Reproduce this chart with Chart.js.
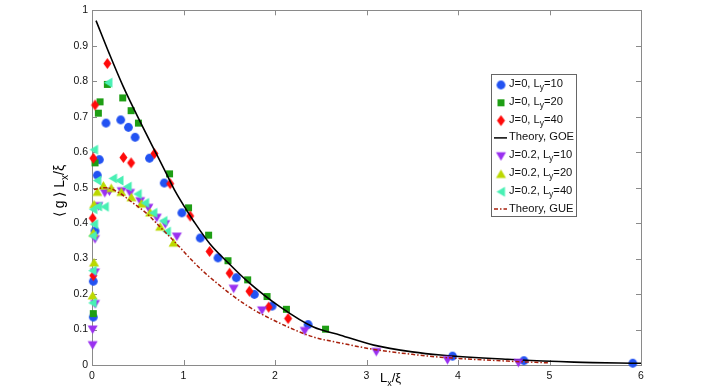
<!DOCTYPE html>
<html>
<head>
<meta charset="utf-8">
<script src="https://cdn.jsdelivr.net/npm/chart.js@4.4.1/dist/chart.umd.min.js"></script>
<style>
  html, body { margin: 0; padding: 0; background: #fff; }
  #wrap { width: 708px; height: 386px; }
</style>
</head>
<body>
<div id="wrap"><canvas id="chart" width="708" height="386"></canvas></div>
<script>
// J=0, Ly=10
var j0L10X = [0.014, 0.014, 0.033, 0.058, 0.080, 0.153, 0.314, 0.398, 0.471, 0.628, 0.789, 0.982, 1.183, 1.377, 1.577, 1.774, 1.968, 2.362, 3.94, 4.72, 5.91];
var j0L10Y = [0.135, 0.236, 0.378, 0.535, 0.579, 0.682, 0.691, 0.670, 0.642, 0.583, 0.513, 0.429, 0.358, 0.302, 0.246, 0.199, 0.166, 0.114, 0.025, 0.012, 0.005];
// J=0, Ly=20
var j0L20X = [0.014, 0.033, 0.069, 0.088, 0.168, 0.336, 0.427, 0.507, 0.847, 1.055, 1.274, 1.486, 1.701, 1.913, 2.125, 2.552];
var j0L20Y = [0.145, 0.570, 0.710, 0.742, 0.791, 0.753, 0.717, 0.682, 0.539, 0.443, 0.366, 0.294, 0.240, 0.193, 0.157, 0.101];
// J=0, Ly=40
var j0L40X = [0.014, 0.007, 0.015, 0.033, 0.168, 0.343, 0.427, 0.682, 0.854, 1.073, 1.285, 1.504, 1.720, 1.931, 2.143];
var j0L40Y = [0.252, 0.414, 0.583, 0.733, 0.850, 0.585, 0.570, 0.596, 0.511, 0.420, 0.320, 0.259, 0.208, 0.163, 0.131];
// J=0.2, Ly=10
var j2L10X = [0.007, 0.007, 0.033, 0.033, 0.033, 0.069, 0.14, 0.19, 0.325, 0.416, 0.526, 0.617, 0.708, 0.800, 0.927, 1.548, 1.858, 2.325, 3.107, 3.885, 4.66];
var j2L10Y = [0.056, 0.100, 0.172, 0.261, 0.355, 0.448, 0.485, 0.489, 0.490, 0.485, 0.462, 0.443, 0.415, 0.397, 0.362, 0.215, 0.154, 0.096, 0.037, 0.014, 0.006];
// J=0.2, Ly=20
var j2L20X = [0.007, 0.022, 0.015, 0.022, 0.058, 0.124, 0.21, 0.32, 0.43, 0.54, 0.635, 0.745, 0.891];
var j2L20Y = [0.196, 0.289, 0.373, 0.453, 0.488, 0.506, 0.499, 0.488, 0.473, 0.455, 0.430, 0.390, 0.345];
// J=0.2, Ly=40
var j2L40X = [0.007, 0.007, 0.007, 0.022, 0.015, 0.066, 0.14, 0.022, 0.058, 0.179, 0.23, 0.30, 0.39, 0.50, 0.58, 0.67, 0.78, 0.818];
var j2L40Y = [0.175, 0.266, 0.364, 0.397, 0.439, 0.447, 0.446, 0.607, 0.520, 0.796, 0.526, 0.520, 0.503, 0.482, 0.457, 0.429, 0.406, 0.376];
// theory curves
var goeX = [0.044, 0.19, 0.343, 0.526, 0.708, 0.81, 0.909, 1.03, 1.11, 1.29, 1.50, 1.69, 2.06, 2.42, 2.716, 3.08, 3.5, 3.81, 4.54, 5.27, 6.0];
var goeY = [0.971, 0.877, 0.784, 0.686, 0.593, 0.541, 0.490, 0.438, 0.406, 0.341, 0.285, 0.238, 0.163, 0.107, 0.084, 0.056, 0.037, 0.028, 0.016, 0.008, 0.005];
var gueX = [0.02, 0.15, 0.30, 0.446, 0.59, 0.737, 0.927, 1.10, 1.29, 1.69, 2.06, 2.42, 2.716, 3.08, 3.5, 3.81, 4.54, 5.0];
var gueY = [0.495, 0.500, 0.485, 0.457, 0.429, 0.391, 0.341, 0.293, 0.247, 0.168, 0.117, 0.079, 0.062, 0.044, 0.030, 0.022, 0.011, 0.006];

var xTicks = [0, 1, 2, 3, 4, 5, 6];
var yTicks = [0, 0.1, 0.2, 0.3, 0.4, 0.5, 0.6, 0.7, 0.8, 0.9, 1];

var FONT = '"Liberation Sans", Arial, Helvetica, sans-serif';

function pairs(xs, ys) {
    var out = [];
    for (var i = 0; i < xs.length; i++) {
        out.push({x: xs[i], y: ys[i]});
    }
    return out;
}

function makeMarker(shape, color) {
    var c = document.createElement('canvas');
    c.width = 13;
    c.height = 13;
    var g = c.getContext('2d');
    g.fillStyle = color;
    g.beginPath();
    if (shape === 'circle') {
        g.arc(6.5, 6.5, 4.4, 0, 2 * Math.PI);
    } else if (shape === 'square') {
        g.rect(3, 3, 7, 7);
    } else if (shape === 'diamond') {
        g.moveTo(6.5, 1);
        g.lineTo(10.5, 6.5);
        g.lineTo(6.5, 12);
        g.lineTo(2.5, 6.5);
    } else if (shape === 'down') {
        g.moveTo(1.5, 2.5);
        g.lineTo(11.5, 2.5);
        g.lineTo(6.5, 11);
    } else if (shape === 'up') {
        g.moveTo(1.5, 10.5);
        g.lineTo(11.5, 10.5);
        g.lineTo(6.5, 2);
    } else if (shape === 'left') {
        g.moveTo(2, 6.5);
        g.lineTo(10.5, 1.5);
        g.lineTo(10.5, 11.5);
    }
    g.closePath();
    g.fill();
    return c;
}

var mBlue = makeMarker('circle', '#2252f2');
var mGreen = makeMarker('square', '#1e9e14');
var mRed = makeMarker('diamond', '#ff0a0a');
var mPurple = makeMarker('down', '#9a30f0');
var mYellow = makeMarker('up', '#bcd800');
var mCyan = makeMarker('left', '#48f0b4');

var GOE_COLOR = '#000000';
var GUE_COLOR = '#a8200c';
var GUE_DASH = [4, 2, 1.5, 2];

function scatterSet(label, xs, ys, marker, order) {
    return {
        type: 'scatter',
        label: label,
        data: pairs(xs, ys),
        pointStyle: marker,
        pointRadius: 5,
        borderWidth: 0,
        showLine: false,
        clip: false,
        order: order
    };
}

// legend rows: [text before sub, subscript, text after sub, kind, marker]
var legendRows = [
    ['J=0, L', 'y', '=10', 'marker', mBlue],
    ['J=0, L', 'y', '=20', 'marker', mGreen],
    ['J=0, L', 'y', '=40', 'marker', mRed],
    ['Theory, GOE', '', '', 'goe', null],
    ['J=0.2, L', 'y', '=10', 'marker', mPurple],
    ['J=0.2, L', 'y', '=20', 'marker', mYellow],
    ['J=0.2, L', 'y', '=40', 'marker', mCyan],
    ['Theory, GUE', '', '', 'gue', null]
];

function drawPieces(ctx, pieces, x, y) {
    // pieces: [text, size, dy]
    var cx = x;
    for (var i = 0; i < pieces.length; i++) {
        ctx.font = pieces[i][1] + 'px ' + FONT;
        ctx.fillText(pieces[i][0], cx, y + pieces[i][2]);
        cx += ctx.measureText(pieces[i][0]).width;
    }
    return cx - x;
}

function measurePieces(ctx, pieces) {
    var w = 0;
    for (var i = 0; i < pieces.length; i++) {
        ctx.font = pieces[i][1] + 'px ' + FONT;
        w += ctx.measureText(pieces[i][0]).width;
    }
    return w;
}

var framePlugin = {
    id: 'frame',
    beforeDatasetsDraw: function (chart) {
        var ctx = chart.ctx;
        var a = chart.chartArea;
        var xs = chart.scales.x, ys = chart.scales.y;
        ctx.save();
        ctx.strokeStyle = '#8a8a8a';
        ctx.lineWidth = 1;
        ctx.strokeRect(Math.round(a.left) + 0.5, Math.round(a.top) + 0.5,
            Math.round(a.right - a.left), Math.round(a.bottom - a.top));
        ctx.beginPath();
        for (var i = 1; i < xTicks.length - 1; i++) {
            var px = Math.round(xs.getPixelForValue(xTicks[i])) + 0.5;
            ctx.moveTo(px, a.bottom);
            ctx.lineTo(px, a.bottom - 5);
            ctx.moveTo(px, a.top);
            ctx.lineTo(px, a.top + 5);
        }
        for (var j = 1; j < yTicks.length - 1; j++) {
            var py = Math.round(ys.getPixelForValue(yTicks[j])) + 0.5;
            ctx.moveTo(a.left, py);
            ctx.lineTo(a.left + 5, py);
            ctx.moveTo(a.right, py);
            ctx.lineTo(a.right - 5, py);
        }
        ctx.stroke();
        ctx.restore();
    },
    afterDraw: function (chart) {
        var ctx = chart.ctx;
        ctx.save();
        ctx.fillStyle = '#000';
        ctx.textBaseline = 'alphabetic';

        // x axis title
        drawPieces(ctx, [['L', 13, 0], ['x', 9, 4], ['/\u03BE', 13, 0]], 380, 382);

        // y axis title, rotated
        var yPieces = [['\u27E8 g \u27E9 L', 14, 0], ['x', 10, 4], ['/\u03BE', 14, 0]];
        var tw = measurePieces(ctx, yPieces);
        ctx.save();
        ctx.translate(64, 191 + tw / 2);
        ctx.rotate(-Math.PI / 2);
        drawPieces(ctx, yPieces, 0, 0);
        ctx.restore();

        // legend
        var bx = 491.5, by = 74.5, bw = 85, bh = 142;
        ctx.fillStyle = '#fff';
        ctx.fillRect(bx, by, bw, bh);
        ctx.strokeStyle = '#666';
        ctx.lineWidth = 1;
        ctx.strokeRect(bx, by, bw, bh);
        for (var i = 0; i < legendRows.length; i++) {
            var row = legendRows[i];
            var cy = 84 + i * 17.8;
            if (row[3] === 'marker') {
                ctx.drawImage(row[4], 501 - 6.5, cy + 1 - 6.5);
            } else {
                ctx.save();
                ctx.beginPath();
                ctx.moveTo(494, cy + 0.5);
                ctx.lineTo(507, cy + 0.5);
                ctx.lineWidth = 1.5;
                ctx.strokeStyle = row[3] === 'goe' ? GOE_COLOR : GUE_COLOR;
                if (row[3] === 'gue') ctx.setLineDash(GUE_DASH);
                ctx.stroke();
                ctx.restore();
            }
            ctx.fillStyle = '#111';
            var pieces = [[row[0], 11.2, 0]];
            if (row[1]) {
                pieces.push([row[1], 8.5, 3]);
                pieces.push([row[2], 11.2, 0]);
            }
            drawPieces(ctx, pieces, 509, cy + 3);
        }
        ctx.restore();
    }
};

var datasets = [
    scatterSet('J=0, Ly=10', j0L10X, j0L10Y, mBlue, 8),
    scatterSet('J=0, Ly=20', j0L20X, j0L20Y, mGreen, 7),
    scatterSet('J=0, Ly=40', j0L40X, j0L40Y, mRed, 6),
    {
        type: 'line',
        label: 'Theory, GOE',
        data: pairs(goeX, goeY),
        borderColor: GOE_COLOR,
        borderWidth: 1.6,
        pointRadius: 0,
        cubicInterpolationMode: 'monotone',
        fill: false,
        order: 5
    },
    scatterSet('J=0.2, Ly=10', j2L10X, j2L10Y, mPurple, 4),
    scatterSet('J=0.2, Ly=20', j2L20X, j2L20Y, mYellow, 3),
    scatterSet('J=0.2, Ly=40', j2L40X, j2L40Y, mCyan, 2),
    {
        type: 'line',
        label: 'Theory, GUE',
        data: pairs(gueX, gueY),
        borderColor: GUE_COLOR,
        borderWidth: 1.5,
        borderDash: GUE_DASH,
        pointRadius: 0,
        cubicInterpolationMode: 'monotone',
        fill: false,
        order: 1
    }
];

var chart = new Chart(document.getElementById('chart'), {
    type: 'scatter',
    data: {datasets: datasets},
    options: {
        responsive: false,
        animation: false,
        events: [],
        layout: {padding: {top: 8, right: 67, left: 0, bottom: 0}},
        plugins: {
            legend: {display: false},
            tooltip: {enabled: false}
        },
        scales: {
            x: {
                type: 'linear',
                min: 0,
                max: 6,
                afterFit: function (scale) { scale.height = 21; },
                afterBuildTicks: function (scale) {
                    scale.ticks = xTicks.map(function (v) { return {value: v}; });
                },
                grid: {display: false, drawTicks: false},
                border: {display: false},
                ticks: {
                    autoSkip: false,
                    maxRotation: 0,
                    padding: 5,
                    color: '#111',
                    font: {family: FONT, size: 10.5},
                    callback: function (v) { return String(v); }
                }
            },
            y: {
                type: 'linear',
                min: 0,
                max: 1,
                afterFit: function (scale) { scale.width = 92; },
                afterBuildTicks: function (scale) {
                    scale.ticks = yTicks.map(function (v) { return {value: v}; });
                },
                grid: {display: false, drawTicks: false},
                border: {display: false},
                ticks: {
                    autoSkip: false,
                    padding: 4,
                    color: '#111',
                    font: {family: FONT, size: 10.5},
                    callback: function (v) { return String(+v.toFixed(1)); }
                }
            }
        }
    },
    plugins: [framePlugin]
});
</script>
</body>
</html>
